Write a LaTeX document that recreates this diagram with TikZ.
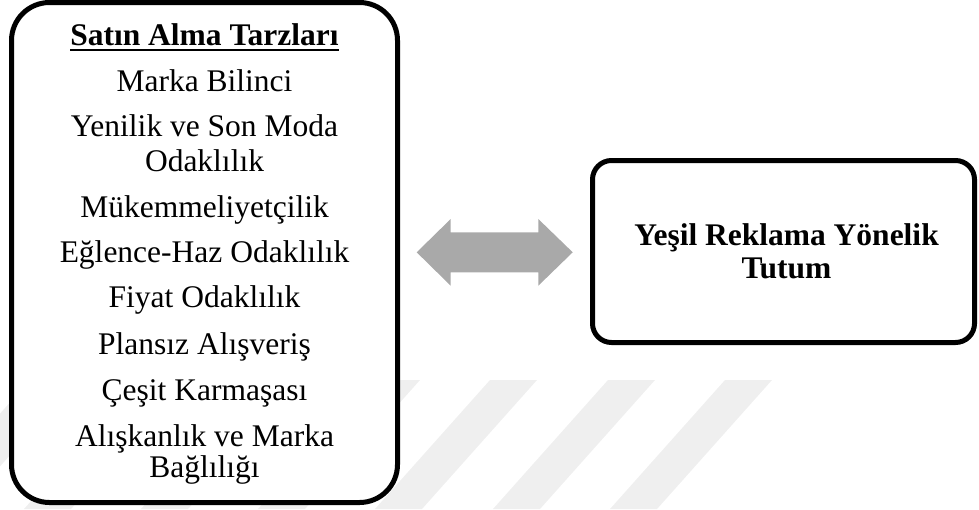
\documentclass[tikz,border=0pt]{standalone}
\usepackage{fontspec}
\setmainfont{Liberation Serif}
\definecolor{wmark}{RGB}{239,239,239}
\definecolor{arrowgray}{RGB}{169,169,169}
\tikzset{
  bigbox/.style={draw=black, line width=5pt, fill=white, inner sep=0pt},
  item/.style={anchor=base, inner sep=0pt, font=\fontsize{31.5}{34}\selectfont},
  bolditem/.style={anchor=base, inner sep=0pt, font=\fontsize{31.5}{34}\selectfont\bfseries},
  stripe/.style={fill=wmark, draw=none},
  blockarrow/.style={fill=arrowgray, draw=none}
}
\begin{document}
\begin{tikzpicture}[x=1pt,y=-1pt]
\useasboundingbox (0,0) rectangle (979,509);
% faint watermark stripes
\foreach \t in {30,139,256,373,490,608,725}{
  \fill[stripe] (\t,380) -- (\t+47,380) -- (\t+47-115,509) -- (\t-115,509) -- cycle;
}
% boxes
\node[bigbox, rounded corners=38pt, minimum width=386pt, minimum height=500pt] (L) at (204.5,252.5) {};
\node[bigbox, rounded corners=19pt, minimum width=382pt, minimum height=182pt] (R) at (783.5,251.5) {};
% double block arrow
\coordinate (aL) at (416.7,252.3);
\coordinate (aR) at (572.7,252.3);
\fill[blockarrow] (aL) -- (450.7,219) -- (450.7,232.3) -- (538.3,232.3) -- (538.3,219)
  -- (aR) -- (538.3,285.7) -- (538.3,272.3) -- (450.7,272.3) -- (450.7,285.7) -- cycle;
% left texts
\node[bolditem] (t0) at (204.5,45) {Satın Alma Tarzları};
\draw[line width=2.5pt] ([yshift=-4.8pt]t0.base west) -- ([yshift=-4.8pt]t0.base east);
\node[item] (t1) at (204.5,91.7) {Marka Bilinci};
\node[item] (t2a) at (204.5,136.7) {Yenilik ve Son Moda};
\node[item] (t2b) at (204.5,171.2) {Odaklılık};
\node[item] (t3) at (204.5,217.3) {Mükemmeliyetçilik};
\node[item] (t4) at (204.5,262.3) {Eğlence-Haz Odaklılık};
\node[item] (t5) at (204.5,307.6) {Fiyat Odaklılık};
\node[item] (t6) at (204.5,354) {Plansız Alışveriş};
\node[item] (t7) at (204.5,400.7) {Çeşit Karmaşası};
\node[item] (t8a) at (204.5,446.7) {Alışkanlık ve Marka};
\node[item] (t8b) at (204.5,477.3) {Bağlılığı};
% right texts
\node[bolditem] (r1) at (786.5,245) {Yeşil Reklama Yönelik};
\node[bolditem] (r2) at (786.5,278.3) {Tutum};
\end{tikzpicture}
\end{document}
